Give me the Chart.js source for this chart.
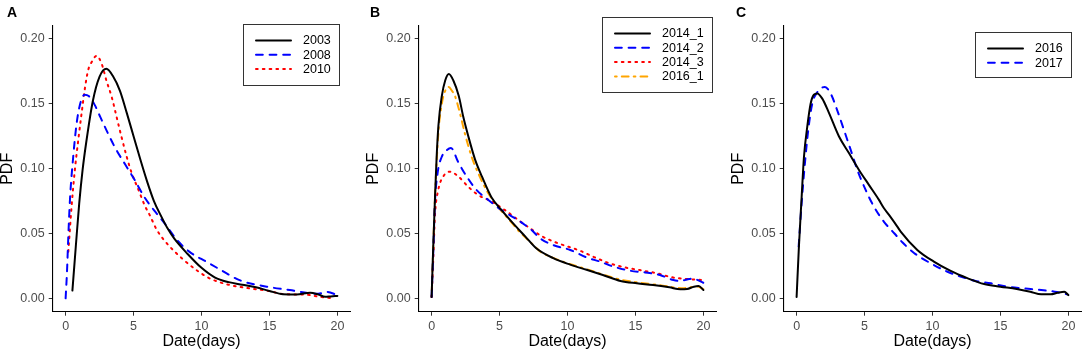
<!DOCTYPE html>
<html>
<head>
<meta charset="utf-8">
<script src="https://cdn.jsdelivr.net/npm/chart.js@4.4.1/dist/chart.umd.min.js"></script>
<style>
  body { margin: 0; background: #fff; width: 1084px; height: 352px; position: relative; overflow: hidden; }
  canvas { position: absolute; top: 0; }
</style>
</head>
<body>
<canvas id="panelA" width="353" height="352" style="left:0px"></canvas>
<canvas id="panelB" width="353" height="352" style="left:366px"></canvas>
<canvas id="panelC" width="353" height="352" style="left:731px"></canvas>
<script>
// axis ticks shared by all three panels
const xTicks = [0, 5, 10, 15, 20];
const yTicks = [0, 0.05, 0.10, 0.15, 0.20];

// panel A
const days2003 = [0.5, 0.75, 1.0, 1.25, 1.5, 2.0, 2.5, 3.0, 3.5, 4.0, 4.5, 5.0, 5.5, 6.0, 6.5, 7, 7.5, 8, 9, 10, 11, 12, 13, 14, 15, 16, 17, 18, 18.6, 19.1, 19.5, 20];
const pdf2003 = [0.006, 0.040, 0.073, 0.099, 0.119, 0.152, 0.171, 0.177, 0.171, 0.160, 0.143, 0.125, 0.107, 0.090, 0.075, 0.064, 0.054, 0.046, 0.034, 0.0235, 0.016, 0.0125, 0.0105, 0.0085, 0.0057, 0.0032, 0.003, 0.0044, 0.003, 0.0012, 0.0015, 0.0019];
const days2008 = [0, 0.1, 0.2, 0.33, 0.55, 0.8, 1.05, 1.4, 1.7, 2.15, 2.5, 2.9, 3.6, 4.4, 5.1, 5.8, 6.5, 7.2, 8.2, 9.1, 10.4, 11.4, 12.8, 14.8, 16.5, 18, 18.6, 19.2, 20];
const pdf2008 = [0.0, 0.02, 0.048, 0.078, 0.108, 0.134, 0.149, 0.157, 0.156, 0.149, 0.141, 0.132, 0.117, 0.103, 0.091, 0.078, 0.068, 0.059, 0.045, 0.036, 0.028, 0.022, 0.014, 0.009, 0.0064, 0.0039, 0.0035, 0.005, 0.0025];
const days2010 = [0.2, 0.44, 0.68, 0.93, 1.18, 1.42, 1.66, 1.91, 2.28, 2.65, 3.0, 3.4, 3.75, 4.1, 4.5, 4.85, 5.35, 5.85, 6.2, 6.7, 7.4, 8.65, 9.6, 10.6, 11.8, 13.5, 14.8, 16.25, 17.5, 18.7, 19.75];
const pdf2010 = [0.036, 0.071, 0.099, 0.122, 0.143, 0.162, 0.176, 0.182, 0.187, 0.181, 0.168, 0.155, 0.140, 0.125, 0.109, 0.097, 0.084, 0.071, 0.064, 0.053, 0.043, 0.030, 0.022, 0.0154, 0.011, 0.0077, 0.006, 0.0031, 0.003, 0.0012, 0.0];

// panel B
const days2014a = [0, 0.12, 0.25, 0.37, 0.5, 0.75, 1.0, 1.27, 1.6, 2.0, 2.33, 2.7, 3.2, 3.7, 4.4, 5.15, 6.1, 6.9, 7.7, 8.95, 10.2, 11.4, 12.6, 13.9, 15.1, 16.3, 17.5, 18.3, 18.8, 19.3, 19.65, 20];
const pdf2014a = [0.001, 0.040, 0.078, 0.109, 0.133, 0.156, 0.168, 0.173, 0.168, 0.156, 0.140, 0.125, 0.107, 0.094, 0.078, 0.068, 0.0566, 0.0476, 0.0386, 0.031, 0.026, 0.022, 0.018, 0.0134, 0.0116, 0.0103, 0.0085, 0.007, 0.0072, 0.009, 0.0095, 0.0064];
const days2014b = [0, 0.12, 0.24, 0.44, 0.74, 1.0, 1.42, 1.96, 2.58, 3.3, 4.17, 5.15, 6.13, 6.87, 7.36, 7.98, 8.95, 10.2, 11.4, 12.4, 13.4, 14.6, 15.7, 16.8, 17.8, 18.3, 18.8, 19.26, 19.6, 20];
const pdf2014b = [0.001, 0.035, 0.073, 0.0965, 0.109, 0.113, 0.116, 0.105, 0.094, 0.0836, 0.0759, 0.068, 0.0618, 0.0566, 0.0527, 0.0463, 0.0411, 0.0373, 0.0316, 0.0283, 0.0244, 0.0213, 0.020, 0.018, 0.0141, 0.0134, 0.0145, 0.0154, 0.014, 0.012];
const days2014c = [0, 0.12, 0.24, 0.49, 0.86, 1.35, 1.96, 2.7, 3.43, 4.42, 5.4, 6.38, 7.24, 8.1, 9.3, 10.9, 12.0, 13.1, 14.2, 15.3, 16.6, 17.7, 18.8, 19.9, 20];
const pdf2014c = [0.001, 0.03, 0.063, 0.0836, 0.094, 0.0977, 0.094, 0.086, 0.0797, 0.0746, 0.068, 0.0604, 0.054, 0.048, 0.0425, 0.0368, 0.0316, 0.027, 0.0239, 0.0218, 0.0193, 0.0162, 0.0149, 0.0141, 0.014];
const days2016a = [0, 0.12, 0.25, 0.5, 0.75, 1.0, 1.25, 1.5, 1.72, 2.08, 2.45, 2.95, 3.43, 4.17, 5.0, 5.5, 6, 6.5, 7, 7.5, 8, 9, 10, 11, 12, 13, 14, 15, 16, 17, 18, 18.5, 19, 19.6, 20];
const pdf2016a = [0.001, 0.04, 0.078, 0.128, 0.150, 0.160, 0.163, 0.160, 0.156, 0.143, 0.127, 0.109, 0.0965, 0.081, 0.069, 0.063, 0.057, 0.051, 0.046, 0.041, 0.036, 0.031, 0.027, 0.0238, 0.0205, 0.017, 0.0142, 0.0125, 0.0112, 0.0098, 0.0082, 0.0078, 0.0085, 0.0092, 0.007];

// panel C
const days2016 = [0, 0.17, 0.37, 0.54, 0.78, 1.03, 1.27, 1.52, 1.89, 2.38, 3.11, 3.85, 4.59, 5.32, 6.06, 6.43, 6.8, 7.41, 7.66, 8.88, 10.1, 11.3, 12.6, 13.8, 15.0, 16.2, 17.2, 18.0, 18.7, 19.2, 19.7, 20];
const pdf2016 = [0.001, 0.04, 0.078, 0.109, 0.132, 0.150, 0.157, 0.158, 0.154, 0.143, 0.125, 0.112, 0.099, 0.0875, 0.0759, 0.0695, 0.0643, 0.0553, 0.0514, 0.0373, 0.0283, 0.0213, 0.0154, 0.011, 0.009, 0.0072, 0.0051, 0.0031, 0.0031, 0.0043, 0.0051, 0.0025];
const days2017 = [0.15, 0.37, 0.61, 0.86, 1.15, 1.52, 2.08, 2.5, 2.99, 3.48, 3.98, 4.47, 5.08, 5.69, 6.43, 7.2, 7.8, 8.64, 9.87, 11.1, 12.1, 13.1, 14.3, 15.5, 16.7, 18.0, 19.0, 19.9];
const pdf2017 = [0.04, 0.0734, 0.104, 0.130, 0.150, 0.159, 0.163, 0.158, 0.145, 0.130, 0.1145, 0.099, 0.0836, 0.0707, 0.059, 0.050, 0.043, 0.035, 0.027, 0.0205, 0.0167, 0.0136, 0.0116, 0.009, 0.0077, 0.0064, 0.0051, 0.0031];

const FONT = '"Liberation Sans", Arial, Helvetica, sans-serif';

const lineStyles = {
  solid: { color: '#000000', dash: [] },
  dashed: { color: '#0000ff', dash: [6.8, 6.8] },
  dotted: { color: '#ff0000', dash: [1.7, 5.1] },
  dotdash: { color: '#ffa500', dash: [1.7, 5.1, 6.8, 5.1] }
};

function series(label, days, pdf, style) {
  const s = lineStyles[style];
  return {
    label,
    data: days.map((d, i) => ({ x: d, y: pdf[i] })),
    borderColor: s.color,
    borderDash: s.dash,
    borderWidth: 2,
    borderCapStyle: 'round',
    borderJoinStyle: 'round',
    cubicInterpolationMode: 'monotone',
    pointRadius: 0,
    fill: false
  };
}

// panel letter + framed legend drawn inside the plot
const decor = {
  id: 'decor',
  afterDraw(chart, args, opts) {
    const ctx = chart.ctx;
    const b = opts.box;
    ctx.save();
    ctx.fillStyle = '#000';
    ctx.font = 'bold 14px ' + FONT;
    ctx.textBaseline = 'alphabetic';
    ctx.textAlign = 'left';
    ctx.fillText(opts.letter, opts.letterX, 17);

    ctx.fillStyle = '#fff';
    ctx.fillRect(b.x, b.y, b.w, b.h);
    ctx.strokeStyle = '#333';
    ctx.lineWidth = 1;
    ctx.strokeRect(b.x + 0.5, b.y + 0.5, b.w, b.h);

    chart.data.datasets.forEach((ds, i) => {
      const y = b.y + 16.5 + i * 14.3;
      ctx.beginPath();
      ctx.setLineDash(ds.borderDash);
      ctx.lineCap = 'round';
      ctx.strokeStyle = ds.borderColor;
      ctx.lineWidth = ds.borderWidth;
      ctx.moveTo(b.x + 13, y);
      ctx.lineTo(b.x + 48, y);
      ctx.stroke();
      ctx.setLineDash([]);
      ctx.fillStyle = '#000';
      ctx.font = '12.5px ' + FONT;
      ctx.textBaseline = 'middle';
      ctx.fillText(ds.label, b.x + 60, y + 0.5);
    });
    ctx.restore();
  }
};

function makePanel(id, datasets, letter, letterX, box) {
  const axisGrid = { display: true, drawOnChartArea: false, drawTicks: true, tickLength: 4, color: '#333', lineWidth: 1 };
  const axisBorder = { display: true, color: '#000', width: 1.1 };
  return new Chart(document.getElementById(id), {
    type: 'line',
    data: { datasets },
    plugins: [decor],
    options: {
      responsive: false,
      animation: false,
      events: [],
      layout: { padding: { top: 26, right: 2.7, bottom: 0, left: 0 } },
      plugins: {
        legend: { display: false },
        tooltip: { enabled: false },
        decor: { letter, letterX, box }
      },
      scales: {
        x: {
          type: 'linear',
          min: -0.95,
          max: 20.95,
          afterBuildTicks: s => { s.ticks = xTicks.map(v => ({ value: v })); },
          afterFit: s => { s.height = 40.3; },
          grid: axisGrid,
          border: axisBorder,
          ticks: { color: '#4d4d4d', font: { family: FONT, size: 12.5 }, padding: 3, maxRotation: 0, autoSkip: false, callback: v => String(v) },
          title: { display: true, text: 'Date(days)', color: '#000', font: { family: FONT, size: 16 }, padding: { top: 0, bottom: 1 } }
        },
        y: {
          type: 'linear',
          min: -0.0103,
          max: 0.21,
          afterBuildTicks: s => { s.ticks = yTicks.map(v => ({ value: v })); },
          afterFit: s => { s.width = 52.7; },
          grid: axisGrid,
          border: axisBorder,
          ticks: { color: '#4d4d4d', font: { family: FONT, size: 12.5 }, padding: 4, autoSkip: false, callback: v => v.toFixed(2) },
          title: { display: true, text: 'PDF', color: '#000', font: { family: FONT, size: 16, lineHeight: 1 }, padding: { top: 0, bottom: 0 } }
        }
      }
    }
  });
}

makePanel('panelA', [
  series('2003', days2003, pdf2003, 'solid'),
  series('2008', days2008, pdf2008, 'dashed'),
  series('2010', days2010, pdf2010, 'dotted')
], 'A', 7, { x: 243, y: 24, w: 96, h: 61 });

makePanel('panelB', [
  series('2014_1', days2014a, pdf2014a, 'solid'),
  series('2014_2', days2014b, pdf2014b, 'dashed'),
  series('2014_3', days2014c, pdf2014c, 'dotted'),
  series('2016_1', days2016a, pdf2016a, 'dotdash')
], 'B', 4, { x: 236, y: 17, w: 110, h: 75 });

makePanel('panelC', [
  series('2016', days2016, pdf2016, 'solid'),
  series('2017', days2017, pdf2017, 'dashed')
], 'C', 5, { x: 244, y: 32, w: 96, h: 45 });
</script>
</body>
</html>
